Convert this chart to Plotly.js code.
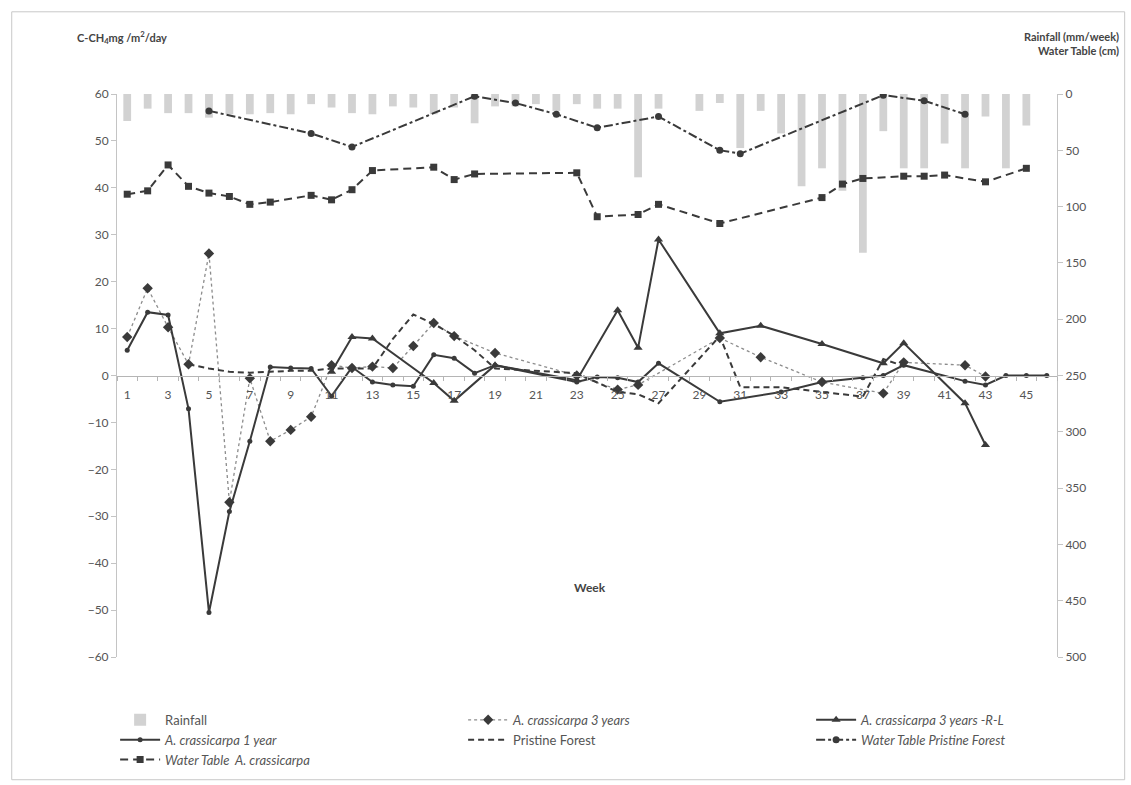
<!DOCTYPE html>
<html>
<head>
<meta charset="utf-8">
<script src="https://cdn.plot.ly/plotly-3.0.1.min.js"></script>
<style>html,body{margin:0;padding:0;background:#fff}#chart{width:1131px;height:785px}</style>
</head>
<body>
<div id="chart"></div>
<script>
// ---- data ----
var rainWeeks = [1,2,3,4,5,6,7,8,9,10,11,12,13,14,15,16,17,18,19,20,21,22,23,24,25,26,27,28,29,30,31,32,33,34,35,36,37,38,39,40,41,42,43,44,45,46];
var rainfall  = [24,13,17,17,21,18,18,17,18,9,12,17,18,11,12,18,12,26,11,11,9,15,9,13,13,74,13,0,15,8,48,15,35,82,66,86,141,33,66,66,44,66,20,66,28,0];

var wtPristineWeeks = [5,10,12,18,20,22,24,27,30,31,38,40,42];
var wtPristine      = [15,35,47,2,8,18,30,20,50,53,1,6,18];

var wtCrassWeeks = [1,2,3,4,5,6,7,8,10,11,12,13,16,17,18,23,24,26,27,30,35,36,37,39,40,41,43,45];
var wtCrass      = [89,86,63,82,88,91,98,96,90,94,85,68,65,76,71,70,109,107,98,115,92,80,75,73,73,72,78,66];

var oneYearWeeks = [1,2,3,4,5,6,7,8,9,10,11,12,13,14,15,16,17,18,19,23,24,25,26,27,30,33,35,37,38,39,42,43,44,45,46];
var oneYear      = [5.4,13.5,12.9,-7.1,-50.5,-29,-14,1.8,1.6,1.5,-4.4,1.8,-1.4,-2,-2.3,4.4,3.7,0.5,2.2,-1.4,-0.3,-0.5,-1.4,2.6,-5.6,-3.5,-1.4,-0.5,0,2.2,-1.2,-2,0,0,0];

var threeYearsWeeks = [1,2,3,4,5,6,7,8,9,10,11,12,13,14,15,16,17,19,23,25,26,30,32,35,38,39,42,43];
var threeYears      = [8.2,18.6,10.3,2.4,26,-27,-0.6,-14,-11.6,-8.8,2.2,1.6,1.9,1.6,6.3,11.2,8.4,4.8,0,-3,-2,8,3.9,-1.4,-3.8,2.8,2.2,-0.2];

var rlWeeks = [11,12,13,16,17,19,23,25,26,27,30,32,35,38,39,42,43];
var rl      = [0.8,8.2,7.9,-1.6,-5.4,2.2,-1,13.9,5.9,29,9,10.6,6.7,2.6,6.9,-5.9,-14.8];

var pristineWeeks = [4,5,6,7,8,9,10,11,12,13,14,15,16,17,18,19,23,25,26,27,30,31,33,35,37,38,39];
var pristine      = [2.4,1.5,0.8,0.6,0.8,1,1,1.5,1.5,1.5,7.8,13,11,8.5,5.4,1.5,0.5,-3.5,-4,-5.9,8.4,-2.5,-2.5,-3.5,-4.5,3.5,2];

var xTickVals = [1,3,5,7,9,11,13,15,17,19,21,23,25,27,29,31,33,35,37,39,41,43,45];

// ---- traces ----
var dark = '#3a3a3a';
var traces = [
  {type:'bar', name:'Rainfall', x:rainWeeks, y:rainfall, yaxis:'y2', width:0.38,
   marker:{color:'#d2d2d2'}},
  {type:'scatter', mode:'lines+markers', name:'<i>A. crassicarpa 3 years</i>', x:threeYearsWeeks, y:threeYears,
   line:{color:'#8c8c8c', width:1.3, dash:'dot'}, marker:{symbol:'diamond', size:8, color:dark}},
  {type:'scatter', mode:'lines+markers', name:'<i>A. crassicarpa 3 years -R-L</i>', x:rlWeeks, y:rl,
   line:{color:dark, width:2}, marker:{symbol:'triangle-up', size:8, color:dark}},
  {type:'scatter', mode:'lines+markers', name:'<i>A. crassicarpa 1 year</i>', x:oneYearWeeks, y:oneYear,
   line:{color:dark, width:2}, marker:{symbol:'circle', size:5, color:dark}},
  {type:'scatter', mode:'lines', name:'Pristine Forest', x:pristineWeeks, y:pristine,
   line:{color:dark, width:2, dash:'6px,4px'}},
  {type:'scatter', mode:'lines+markers', name:'<i>Water Table Pristine Forest</i>', x:wtPristineWeeks, y:wtPristine, yaxis:'y2',
   line:{color:dark, width:2, dash:'dashdot'}, marker:{symbol:'circle', size:7, color:dark}},
  {type:'scatter', mode:'lines+markers', name:'<i>Water Table  A. crassicarpa</i>', x:wtCrassWeeks, y:wtCrass, yaxis:'y2',
   line:{color:dark, width:2, dash:'8px,5px'}, marker:{symbol:'square', size:7, color:dark}}
];

var tickFont = {family:'Lato, "Open Sans", sans-serif', size:12, color:'#555'};
var layout = {
  width:1131, height:785,
  margin:{l:117, r:74, t:94, b:128, autoexpand:false},
  paper_bgcolor:'#ffffff', plot_bgcolor:'rgba(0,0,0,0)',
  showlegend:true,
  font:{family:'Lato, "Open Sans", sans-serif', size:11, color:'#444'},
  xaxis:{range:[0.5,46.5], anchor:'free', position:0.5, tickmode:'array', tickvals:xTickVals,
    showgrid:false, zeroline:false, showline:true, linecolor:'#b5b5b5', linewidth:1,
    ticks:'', tickfont:tickFont, ticklabelstandoff:8,
    minor:{tick0:0.5, dtick:1, ticks:'outside', ticklen:4, tickcolor:'#b5b5b5'}},
  yaxis:{range:[-60,60], dtick:10, showgrid:false, zeroline:false, showline:true, linecolor:'#c4c4c4',
    ticks:'outside', ticklen:5, tickcolor:'#c4c4c4', tickfont:tickFont},
  yaxis2:{range:[500,0], dtick:50, overlaying:'y', side:'right', showgrid:false, zeroline:false,
    showline:true, linecolor:'#c4c4c4', ticks:'outside', ticklen:5, tickcolor:'#c4c4c4', tickfont:tickFont},
  legend:{orientation:'h', x:-0.002, xanchor:'left', y:-0.085, yanchor:'top', entrywidth:293,
    traceorder:'normal', font:{family:'Lato, "Open Sans", sans-serif', size:13, color:'#555'},
    tracegroupgap:0, itemwidth:40, bgcolor:'rgba(0,0,0,0)'},
  barmode:'overlay',
  annotations:[
    {xref:'paper', yref:'paper', x:-0.045, y:1.0995, xanchor:'left', yanchor:'middle', showarrow:false,
     text:'<b>C-CH<sub>4</sub>mg /m<sup>2</sup>/day</b>', font:{size:11, color:'#444'}},
    {xref:'paper', yref:'paper', x:1.068, y:1.118, xanchor:'right', yanchor:'top', align:'right', showarrow:false,
     text:'<b>Rainfall (mm/week)</b><br><b>Water Table (cm)</b>', font:{size:11, color:'#444'}},
    {xref:'paper', yref:'paper', x:0.503, y:0.123, xanchor:'center', yanchor:'middle', showarrow:false,
     text:'<b>Week</b>', font:{size:12, color:'#444'}}
  ],
  shapes:[
    {type:'rect', xref:'paper', yref:'paper', x0:-0.112, x1:1.072, y0:-0.218, y1:1.146,
     line:{color:'#c8c8c8', width:1}}
  ]
};

Plotly.newPlot('chart', traces, layout, {staticPlot:true, displayModeBar:false});
</script>
</body>
</html>
